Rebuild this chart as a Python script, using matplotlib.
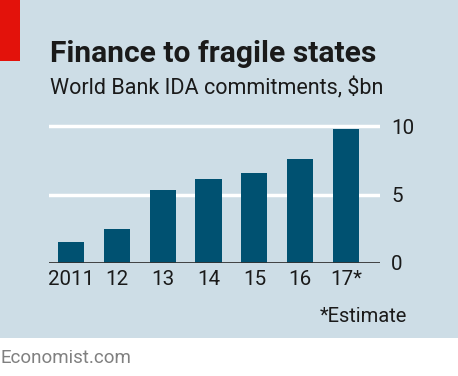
import matplotlib
matplotlib.use("Agg")
import matplotlib.pyplot as plt
from matplotlib.patches import Rectangle

years = ["2011", "12", "13", "14", "15", "16", "17*"]
values = [1.5, 2.5, 5.3, 6.1, 6.6, 7.6, 9.8]
yticks = [0, 5, 10]

W, H = 458, 376
BG = "#cddde6"
BAR = "#005171"
FONT = "Roboto"

fig = plt.figure(figsize=(W / 100, H / 100), dpi=100)
fig.patch.set_facecolor("white")

def fx(x):
    return x / W

def fy(y):
    return 1 - y / H

# panel background
fig.patches.append(Rectangle((0, fy(338)), 1, 1 - fy(338), transform=fig.transFigure,
                             facecolor=BG, edgecolor="none", zorder=-2))
# red tag
fig.patches.append(Rectangle((0, fy(61)), fx(20), 1 - fy(61), transform=fig.transFigure,
                             facecolor="#e3120b", edgecolor="none", zorder=-1))

ymax = 10.3
ax_left, ax_right, ax_zero = 49, 380, 263
px_per_unit = (263 - 126) / 10
ax_top = ax_zero - ymax * px_per_unit
ax = fig.add_axes([fx(ax_left), fy(ax_zero), fx(ax_right - ax_left), (ax_zero - ax_top) / H])
ax.set_zorder(2)
ax.set_facecolor("none")

x = list(range(len(values)))
ax.bar(x, values, width=0.57, color=BAR, zorder=3)
ax.set_xlim(-0.48, 6.74)
ax.set_ylim(0, ymax)

for t in yticks[1:]:
    ax.axhline(t, color="white", lw=2.5, zorder=1)
ax.axhline(0, color="#333333", lw=2, zorder=4)

for s in ax.spines.values():
    s.set_visible(False)
ax.set_xticks(x)
ax.set_xticklabels(years, fontsize=14.8, family=FONT, color="#1a1a1a")
ax.set_yticks(yticks)
ax.set_yticklabels([str(t) for t in yticks], fontsize=14.8, family=FONT, color="#1a1a1a")
ax.yaxis.tick_right()
ax.tick_params(axis="both", length=0)
ax.tick_params(axis="y", pad=8)
ax.tick_params(axis="x", pad=5)

fig.text(fx(50), fy(62), "Finance to fragile states", fontsize=21.6, fontweight="bold",
         family=FONT, color="#1a1a1a", va="baseline", ha="left")
fig.text(fx(50), fy(94), "World Bank IDA commitments, $bn", fontsize=15.5,
         family=FONT, color="#1a1a1a", va="baseline", ha="left")
fig.text(fx(407), fy(322), "*Estimate", fontsize=14.5, family=FONT, color="#1a1a1a",
         va="baseline", ha="right")
fig.text(fx(1), fy(363), "Economist.com", fontsize=13.5, family=FONT, color="#808080",
         va="baseline", ha="left")

fig.savefig("out.png", dpi=100, facecolor=fig.get_facecolor())
